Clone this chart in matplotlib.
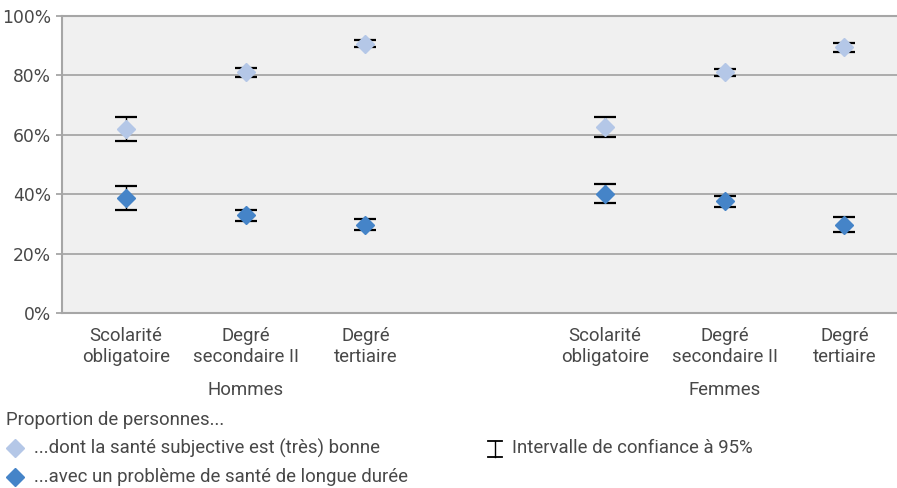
import matplotlib
matplotlib.use("Agg")
import matplotlib.pyplot as plt
from matplotlib.lines import Line2D
import numpy as np

# ---- data ----
categories = ["Scolarité\nobligatoire", "Degré\nsecondaire II", "Degré\ntertiaire"]
groups = ["Hommes", "Femmes"]
positions = [0, 1, 2, 4, 5, 6]

good_health = [62.1, 81.0, 90.7, 62.6, 81.0, 89.5]
good_low = [58.0, 79.3, 89.4, 59.3, 79.7, 88.0]
good_high = [66.1, 82.5, 92.0, 65.9, 82.3, 91.0]

long_problem = [38.7, 32.9, 29.6, 40.2, 37.6, 29.6]
long_low = [34.7, 31.1, 27.8, 36.9, 35.8, 27.3]
long_high = [42.8, 34.7, 31.5, 43.3, 39.3, 32.2]

yticks = [0, 20, 40, 60, 80, 100]
ytick_labels = ["0%", "20%", "40%", "60%", "80%", "100%"]

legend_title = "Proportion de personnes..."
legend_good = "...dont la santé subjective est (très) bonne"
legend_long = "...avec un problème de santé de longue durée"
legend_ci = "Intervalle de confiance à 95%"

LIGHT = "#B4C7E7"
DARK = "#4584C8"
GRID = "#A6A6A6"
TXT = "#484848"
FS = 13.4

plt.rcParams['font.family'] = ['Roboto', 'DejaVu Sans']

fig = plt.figure(figsize=(8.97, 4.88), dpi=100)
W, H = 897, 488
ax = fig.add_axes([62 / W, 1 - 313 / H, (W - 62) / W + 0.01, (313 - 16) / H])
ax.set_facecolor("#F0F0F0")

for vals, lo, hi, col in [(good_health, good_low, good_high, LIGHT),
                          (long_problem, long_low, long_high, DARK)]:
    vals = np.array(vals)
    yerr = np.vstack([vals - np.array(lo), np.array(hi) - vals])
    ax.errorbar(positions, vals, yerr=yerr, fmt='none', ecolor='black',
                elinewidth=1.0, capsize=8, capthick=1.6, zorder=3)
    ax.plot(positions, vals, linestyle='none', marker='D', markersize=9.5,
            markerfacecolor=col, markeredgecolor=col, zorder=4)

ax.set_xlim(-0.535, 6.44 + 0.01 * W / 119.67)
ax.set_ylim(0, 100)
ax.set_yticks(yticks)
ax.set_yticklabels(ytick_labels, fontsize=12.3, color=TXT, family=['DejaVu Sans'])
ax.yaxis.grid(True, color=GRID, linewidth=1.3)
ax.set_axisbelow(True)
ax.tick_params(axis='y', length=4, color=GRID, width=1.3, pad=4)

ax.set_xticks(positions)
ax.set_xticklabels(categories * 2, fontsize=FS, color=TXT, linespacing=1.22)
ax.tick_params(axis='x', length=0, pad=10)

for s in ['left', 'bottom', 'top']:
    ax.spines[s].set_color(GRID)
    ax.spines[s].set_linewidth(1.5)
ax.spines['right'].set_visible(False)

trans = matplotlib.transforms.blended_transform_factory(ax.transData, ax.transAxes)
ax.text(1, -0.26, groups[0], transform=trans, ha='center', va='center', fontsize=FS, color=TXT)
ax.text(5, -0.26, groups[1], transform=trans, ha='center', va='center', fontsize=FS, color=TXT)

# ---- legend ----
def fy(p):
    return 1 - p / H

fig.text(6 / W, fy(420), legend_title, fontsize=FS, color=TXT, va='center', ha='left')
fig.add_artist(Line2D([15 / W], [fy(448)], marker='D', markersize=8.7, color=LIGHT,
                      linestyle='none', transform=fig.transFigure))
fig.text(34 / W, fy(448), legend_good, fontsize=FS, color=TXT, va='center', ha='left')
fig.add_artist(Line2D([15 / W], [fy(477)], marker='D', markersize=8.7, color=DARK,
                      linestyle='none', transform=fig.transFigure))
fig.text(34 / W, fy(477), legend_long, fontsize=FS, color=TXT, va='center', ha='left')

# CI symbol
cx, top, bot, hw = 495, 441, 457, 7
fig.add_artist(Line2D([cx / W, cx / W], [fy(top), fy(bot)], color='black', lw=1.0,
                      transform=fig.transFigure))
for yy in (top, bot):
    fig.add_artist(Line2D([(cx - hw) / W, (cx + hw) / W], [fy(yy), fy(yy)], color='black',
                          lw=1.3, transform=fig.transFigure))
fig.text(512 / W, fy(448), legend_ci, fontsize=FS, color=TXT, va='center', ha='left')

fig.savefig("out.png", dpi=100)
